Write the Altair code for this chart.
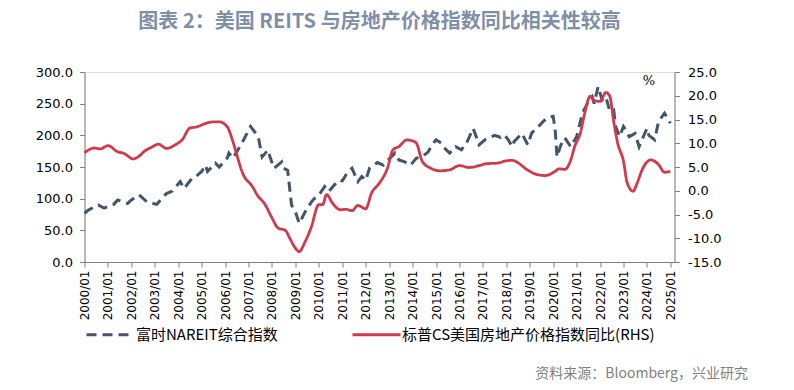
import altair as alt
import pandas as pd

SERIES_REIT = "富时NAREIT综合指数"
SERIES_HPI = "标普CS美国房地产价格指数同比(RHS)"

reit_dates = ["2000-01", "2000-03", "2000-08", "2000-11", "2001-04", "2001-06", "2001-11", "2002-01",
              "2002-05", "2002-09", "2003-02", "2003-07", "2003-10", "2004-02", "2004-04", "2004-08",
              "2004-10", "2005-01", "2005-03", "2005-04", "2005-08", "2005-10", "2006-02", "2006-03",
              "2006-05", "2006-07", "2006-10", "2007-02", "2007-06", "2007-08", "2007-11", "2007-12",
              "2008-02", "2008-06", "2008-07", "2008-09", "2008-11", "2009-01", "2009-03", "2009-07",
              "2009-10", "2010-01", "2010-04", "2010-06", "2010-11", "2011-01", "2011-04", "2011-06",
              "2011-09", "2011-11", "2012-01", "2012-03", "2012-07", "2012-10", "2013-02", "2013-04",
              "2013-06", "2013-09", "2013-12", "2014-03", "2014-06", "2014-09", "2014-11", "2015-01",
              "2015-04", "2015-05", "2015-08", "2015-11", "2016-02", "2016-05", "2016-08", "2016-09",
              "2016-11", "2017-02", "2017-05", "2017-07", "2017-10", "2017-12", "2018-02", "2018-04",
              "2018-05", "2018-09", "2018-12", "2019-02", "2019-04", "2019-08", "2019-10", "2020-01",
              "2020-02", "2020-03", "2020-05", "2020-07", "2020-10", "2021-01", "2021-04", "2021-07",
              "2021-09", "2021-10", "2021-12", "2022-02", "2022-04", "2022-06", "2022-08", "2022-09",
              "2022-11", "2023-01", "2023-02", "2023-04", "2023-07", "2023-09", "2024-01", "2024-02",
              "2024-05", "2024-07", "2024-10", "2025-01"]
reit_values = [77, 82, 90, 85, 91, 98, 92.5, 98,
               106, 95, 91, 108, 112, 127, 116, 132,
               135, 143, 153, 143, 156, 150, 164, 172,
               164, 174, 190, 214, 198, 166, 177, 166,
               148, 158, 148, 145, 90, 79, 61, 85,
               98, 106, 119, 111, 129, 128, 143, 148,
               127, 135, 129, 148, 157, 153, 166, 172,
               161, 158, 153, 164, 166, 174, 185, 193,
               187, 181, 172, 182, 177, 190, 211, 203,
               185, 193, 197, 200, 197, 201, 193, 182,
               190, 203, 185, 204, 209, 222, 228, 230,
               209, 166, 185, 196, 182, 198, 235, 253,
               261, 250, 277, 256, 261, 238, 240, 214,
               198, 214, 209, 198, 203, 182, 211, 200,
               193, 222, 235, 219]

hpi_dates = ["2000-01", "2000-06", "2000-09", "2001-01", "2001-06", "2001-09", "2002-02", "2002-04",
             "2002-08", "2002-11", "2003-03", "2003-07", "2003-12", "2004-03", "2004-07", "2004-10",
             "2005-04", "2005-07", "2005-10", "2006-02", "2006-05", "2006-07", "2006-10", "2007-03",
             "2007-06", "2007-09", "2008-01", "2008-04", "2008-08", "2008-10", "2009-01", "2009-03",
             "2009-06", "2009-09", "2010-01", "2010-03", "2010-05", "2010-08", "2010-12", "2011-03",
             "2011-06", "2011-09", "2012-01", "2012-04", "2012-08", "2012-12", "2013-03", "2013-06",
             "2013-10", "2014-01", "2014-03", "2014-06", "2014-10", "2015-03", "2015-08", "2016-01",
             "2016-06", "2016-11", "2017-03", "2017-08", "2018-01", "2018-04", "2018-08", "2018-11",
             "2019-01", "2019-04", "2019-09", "2019-11", "2020-02", "2020-04", "2020-07", "2020-10",
             "2020-12", "2021-03", "2021-05", "2021-08", "2021-10", "2022-01", "2022-04", "2022-06",
             "2022-08", "2022-10", "2023-01", "2023-03", "2023-06", "2023-08", "2023-11", "2024-03",
             "2024-07", "2024-10", "2025-01"]
hpi_values = [8.0, 9.0, 8.8, 9.5, 8.2, 7.9, 6.7, 7.0,
              8.4, 9.1, 9.8, 8.9, 9.8, 10.7, 13.2, 13.4,
              14.3, 14.5, 14.5, 13.5, 10.4, 7.6, 3.7, 0.9,
              -1.2, -2.6, -5.7, -7.8, -8.4, -9.9, -12.1, -12.8,
              -10.7, -7.8, -2.9, -2.9, -0.8, -2.6, -4.0, -3.9,
              -4.2, -3.1, -3.8, -0.5, 1.6, 4.6, 8.6, 9.3,
              10.7, 10.5, 10.0, 6.2, 4.8, 4.2, 4.4, 5.3,
              4.9, 5.3, 5.7, 5.8, 6.3, 6.4, 5.6, 4.6,
              4.1, 3.5, 3.2, 3.4, 4.1, 4.6, 4.5, 6.5,
              9.3, 12.2, 16.0, 19.9, 19.0, 18.8, 20.7, 19.9,
              14.6, 10.1, 6.2, 1.6, -0.1, 1.6, 4.8, 6.5,
              5.5, 3.9, 4.1]

left_ticks = [0, 50, 100, 150, 200, 250, 300]
right_ticks = [-15, -10, -5, 0, 5, 10, 15, 20, 25]
year_ticks = [f"{y}-01-01" for y in range(2000, 2026)]

reit_df = pd.DataFrame({"date": reit_dates, "value": reit_values, "series": SERIES_REIT})
hpi_df = pd.DataFrame({"date": hpi_dates, "value": hpi_values, "series": SERIES_HPI})

NAVY = "#44546A"
RED = "#D13A4B"
AXIS_GRAY = "#808080"

x_enc = alt.X(
    "date:T",
    scale=alt.Scale(domain=["2000-01-01", "2025-03-06"]),
    axis=alt.Axis(
        values=year_ticks, format="%Y/%m", labelAngle=270, labelFont="DejaVu Sans",
        labelFontSize=12, labelColor="#000000", labelPadding=3, tickSize=5,
        domainColor=AXIS_GRAY, tickColor=AXIS_GRAY, grid=False,
        title="资料来源：Bloomberg，兴业研究", titleFont="Noto Sans CJK SC", titleFontSize=14,
        titleFontWeight="normal", titleColor="#7F7F7F", titleAnchor="end", titleAlign="right",
        titleBaseline="middle", titleX=663, titleY=111,
    ),
)

color_enc = alt.Color(
    "series:N",
    scale=alt.Scale(domain=[SERIES_REIT, SERIES_HPI], range=[NAVY, RED]),
    legend=alt.Legend(
        title=None, orient="none", legendX=0.5, legendY=237, direction="horizontal",
        symbolType="stroke", symbolSize=2304, symbolStrokeWidth=3, labelFont="Noto Sans CJK SC",
        labelFontSize=15, labelColor="#000000", labelOffset=0, columnPadding=68, labelLimit=0,
    ),
)
dash_enc = alt.StrokeDash(
    "series:N",
    scale=alt.Scale(domain=[SERIES_REIT, SERIES_HPI], range=[[10, 6], [1, 0]]),
    legend=None,
)

reit_line = alt.Chart(reit_df).mark_line(strokeWidth=3).encode(
    x=x_enc,
    y=alt.Y(
        "value:Q",
        scale=alt.Scale(domain=[0, 300], nice=False),
        axis=alt.Axis(
            values=left_ticks, labelExpr="format(datum.value, '.1f')", orient="left",
            labelFont="DejaVu Sans", labelFontSize=13, labelColor="#000000", labelPadding=7,
            tickSize=5, domainColor=AXIS_GRAY, tickColor=AXIS_GRAY, grid=False, title=None,
        ),
    ),
    color=color_enc,
    strokeDash=dash_enc,
)

hpi_line = alt.Chart(hpi_df).mark_line(strokeWidth=2.8, interpolate="monotone").encode(
    x=x_enc,
    y=alt.Y(
        "value:Q",
        scale=alt.Scale(domain=[-15, 25], nice=False),
        axis=alt.Axis(
            values=right_ticks,
            labelExpr="replace(format(datum.value, '.1f'), '\u2212', '-')", orient="right",
            labelFont="DejaVu Sans", labelFontSize=13, labelColor="#000000", labelPadding=8,
            tickSize=5, domainColor=AXIS_GRAY, tickColor=AXIS_GRAY, grid=False,
            title="%", titleAngle=0, titleX=-26, titleY=8, titleAlign="center",
            titleBaseline="middle", titleFont="DejaVu Serif", titleFontSize=13,
            titleFontWeight="normal", titleColor="#000000",
        ),
    ),
    color=color_enc,
    strokeDash=dash_enc,
)

chart = (
    alt.layer(reit_line, hpi_line)
    .resolve_scale(y="independent")
    .properties(
        width=590,
        height=190,
        autosize=alt.AutoSizeParams(type="none"),
        padding={"left": 76.5, "top": 64, "right": 100, "bottom": 122},
        title=alt.TitleParams(
            "图表 2：美国 REITS 与房地产价格指数同比相关性较高",
            anchor="middle", frame="group", font="Noto Sans CJK SC", fontSize=20,
            fontWeight="bold", color="#7F8FA9", offset=34,
        ),
    )
    .configure_view(stroke=None)
    .configure(background="#FFFFFF")
)

chart.save("out.html", embed_options={"renderer": "svg", "actions": False})
